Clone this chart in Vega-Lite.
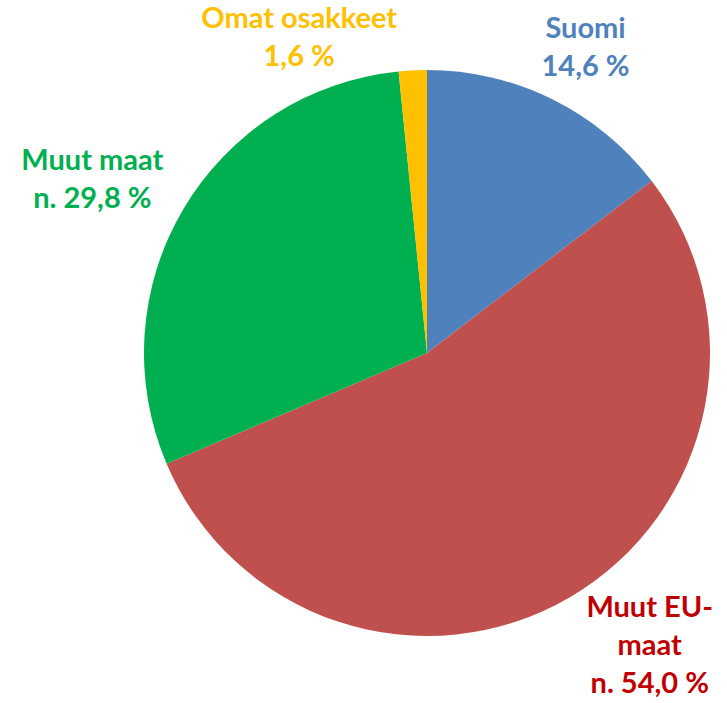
{
  "$schema": "https://vega.github.io/schema/vega-lite/v6.json",
  "width": 600,
  "height": 600,
  "autosize": {"type": "none"},
  "padding": {"left": 127, "top": 53, "right": 0, "bottom": 50},
  "background": "white",
  "config": {"view": {"stroke": null}},
  "data": {
    "values": [
      {"idx": 1, "cat": "Suomi", "value": 14.6, "label": "Suomi\n14,6 %"},
      {"idx": 2, "cat": "Muut EU-maat", "value": 54.0, "label": "Muut EU-\nmaat\nn. 54,0 %"},
      {"idx": 3, "cat": "Muut maat", "value": 29.8, "label": "Muut maat\nn. 29,8 %"},
      {"idx": 4, "cat": "Omat osakkeet", "value": 1.6, "label": "Omat osakkeet\n1,6 %"}
    ]
  },
  "encoding": {
    "theta": {"field": "value", "type": "quantitative", "stack": true},
    "order": {"field": "idx", "type": "quantitative"}
  },
  "layer": [
    {
      "mark": {"type": "arc", "outerRadius": 283},
      "encoding": {
        "color": {
          "field": "cat",
          "type": "nominal",
          "scale": {
            "domain": ["Suomi", "Muut EU-maat", "Muut maat", "Omat osakkeet"],
            "range": ["#4F81BD", "#C0504D", "#00B050", "#FFC000"]
          },
          "legend": null
        }
      }
    },
    {
      "mark": {"type": "text", "radius": 340, "dx": 8, "dy": -19, "font": "Lato", "fontWeight": "bold", "fontSize": 29, "lineBreak": "\n", "lineHeight": 38, "align": "center", "baseline": "middle", "color": "#4F81BD"},
      "encoding": {
        "detail": {"field": "cat"},
        "text": {"condition": {"test": "datum.cat === 'Suomi'", "field": "label"}, "value": ""}
      }
    },
    {
      "mark": {"type": "text", "radius": 339, "dx": 52, "dy": -38, "font": "Lato", "fontWeight": "bold", "fontSize": 29, "lineBreak": "\n", "lineHeight": 38, "align": "center", "baseline": "middle", "color": "#C00000"},
      "encoding": {
        "detail": {"field": "cat"},
        "text": {"condition": {"test": "datum.cat === 'Muut EU-maat'", "field": "label"}, "value": ""}
      }
    },
    {
      "mark": {"type": "text", "radius": 340, "dx": -42, "dy": -19, "font": "Lato", "fontWeight": "bold", "fontSize": 29, "lineBreak": "\n", "lineHeight": 38, "align": "center", "baseline": "middle", "color": "#00B050"},
      "encoding": {
        "detail": {"field": "cat"},
        "text": {"condition": {"test": "datum.cat === 'Muut maat'", "field": "label"}, "value": ""}
      }
    },
    {
      "mark": {"type": "text", "radius": 315, "dx": -112, "dy": -19, "font": "Lato", "fontWeight": "bold", "fontSize": 29, "lineBreak": "\n", "lineHeight": 38, "align": "center", "baseline": "middle", "color": "#FFC000"},
      "encoding": {
        "detail": {"field": "cat"},
        "text": {"condition": {"test": "datum.cat === 'Omat osakkeet'", "field": "label"}, "value": ""}
      }
    }
  ]
}
